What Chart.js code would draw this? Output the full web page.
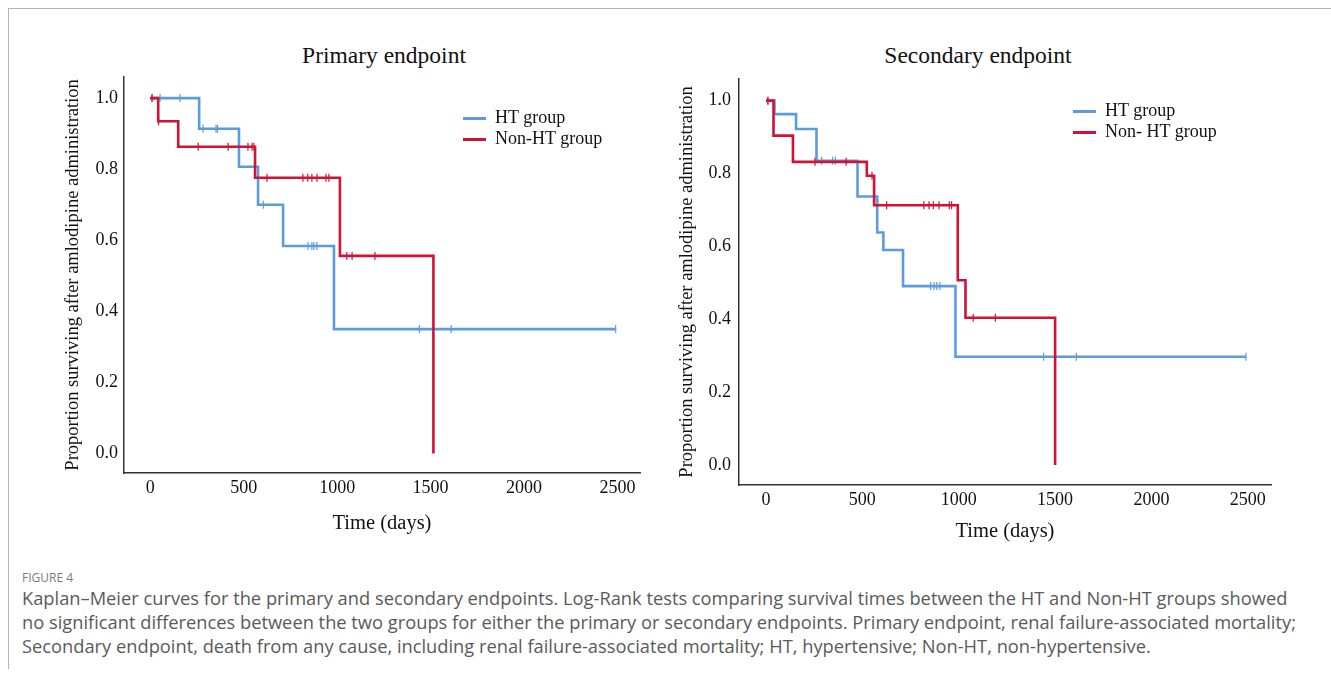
<!DOCTYPE html>
<html>
<head>
<meta charset="UTF-8">
<title>Figure 4 - Kaplan-Meier curves</title>
<script src="https://cdn.jsdelivr.net/npm/chart.js"></script>
<style>
  body {
    margin: 0;
    background: #fff;
    width: 1331px;
    height: 679px;
    position: relative;
    overflow: hidden;
    font-family: "Liberation Serif", "Times New Roman", serif;
  }
  .frame {
    position: absolute;
    left: 8px; top: 8px; right: 0; height: 660px;
    border-top: 1px solid #b4b4b4;
    border-left: 1px solid #b4b4b4;
  }
  canvas { position: absolute; }
  .title {
    position: absolute;
    top: 41px;
    font-size: 23.5px;
    line-height: 28px;
    color: #111;
    transform: translateX(-50%);
    white-space: nowrap;
  }
  .legend {
    position: absolute;
    font-size: 18px;
    line-height: 21px;
    color: #111;
    white-space: nowrap;
  }
  .legend .sw {
    display: inline-block;
    width: 23px; height: 3px;
    vertical-align: middle;
    margin-right: 9px;
  }
  .figlabel {
    position: absolute;
    left: 22px; top: 569px;
    font-family: "Open Sans", sans-serif;
    font-size: 12px;
    color: #7a7a7a;
  }
  .caption {
    position: absolute;
    left: 22px; top: 586px;
    font-family: "Open Sans", sans-serif;
    font-size: 18.3px;
    line-height: 24px;
    color: #5a5a5a;
    white-space: nowrap;
  }
</style>
</head>
<body>
<div class="frame"></div>

<div class="title" style="left:384px">Primary endpoint</div>
<div class="title" style="left:978px">Secondary endpoint</div>

<canvas id="primaryChart" width="610" height="490" style="left:40px;top:60px"></canvas>
<canvas id="secondaryChart" width="625" height="500" style="left:660px;top:60px"></canvas>

<div class="legend" style="left:463px;top:107px">
  <div><span class="sw" style="background:#5b9be0"></span>HT group</div>
  <div><span class="sw" style="background:#cf1236"></span>Non-HT group</div>
</div>
<div class="legend" style="left:1073px;top:100px">
  <div><span class="sw" style="background:#5b9be0"></span>HT group</div>
  <div><span class="sw" style="background:#cf1236"></span>Non- HT group</div>
</div>

<div class="figlabel">FIGURE 4</div>
<div class="caption">
  Kaplan–Meier curves for the primary and secondary endpoints. Log-Rank tests comparing survival times between the HT and Non-HT groups showed<br>
  no significant differences between the two groups for either the primary or secondary endpoints. Primary endpoint, renal failure-associated mortality;<br>
  Secondary endpoint, death from any cause, including renal failure-associated mortality; HT, hypertensive; Non-HT, non-hypertensive.
</div>

<script>
  // axis ticks
  const xTicks = [0, 500, 1000, 1500, 2000, 2500];
  const yTicks = [0, 0.2, 0.4, 0.6, 0.8, 1.0];

  // primary endpoint - event times (days) and survival after each event
  const htEventsP = [262, 475, 577, 711, 983];
  const htSurvP = [0.914, 0.807, 0.700, 0.584, 0.350];
  const htCensoredP = [10, 53, 160, 283, 352, 360, 605, 844, 865, 876, 892, 1440, 1610, 2490];

  const nonEventsP = [43, 150, 561, 1015, 1515];
  const nonSurvP = [0.935, 0.863, 0.776, 0.556, 0.0];
  const nonCensoredP = [10, 45, 257, 417, 523, 545, 555, 625, 817, 843, 865, 892, 940, 956, 1052, 1080, 1202];

  // secondary endpoint
  const htEventsS = [44, 156, 262, 475, 577, 609, 711, 983];
  const htSurvS = [0.963, 0.922, 0.835, 0.737, 0.638, 0.590, 0.491, 0.297];
  const htCensoredS = [10, 289, 346, 360, 854, 872, 886, 902, 1440, 1610, 2490];

  const nonEventsS = [39, 140, 523, 561, 995, 1035, 1500];
  const nonSurvS = [0.904, 0.832, 0.794, 0.713, 0.507, 0.404, 0.0];
  const nonCensoredS = [10, 254, 416, 550, 626, 819, 846, 868, 898, 951, 963, 1075, 1190];

  const BLUE = '#5b9be0';
  const RED = '#cf1236';
  const FONT = '"Liberation Serif", "Times New Roman", serif';

  function survAt(events, surv, t) {
    let s = 1;
    events.forEach((e, i) => { if (e <= t) s = surv[i]; });
    return s;
  }

  function curve(events, surv, censored) {
    const pts = [{x: 0, y: 1}];
    events.forEach((t, i) => pts.push({x: t, y: surv[i]}));
    const last = censored[censored.length - 1];
    if (last > events[events.length - 1]) pts.push({x: last, y: surv[surv.length - 1]});
    return pts;
  }

  function marks(events, surv, censored) {
    return censored.map(t => ({x: t, y: survAt(events, surv, t)}));
  }

  function lineSet(data, color) {
    return {
      type: 'line', data: data, borderColor: color, borderWidth: 2.6,
      stepped: true, pointRadius: 0, fill: false
    };
  }

  function markSet(data, color) {
    return {
      type: 'scatter', data: data, borderColor: color, backgroundColor: color,
      pointStyle: 'line', rotation: 90, pointRadius: 4, borderWidth: 1.2, showLine: false
    };
  }

  function makeChart(id, series, lay) {
    new Chart(document.getElementById(id), {
      type: 'scatter',
      data: {
        datasets: [
          markSet(marks(series.nonE, series.nonS, series.nonC), RED),
          lineSet(curve(series.nonE, series.nonS, series.nonC), RED),
          markSet(marks(series.htE, series.htS, series.htC), BLUE),
          lineSet(curve(series.htE, series.htS, series.htC), BLUE)
        ]
      },
      options: {
        responsive: false,
        animation: false,
        events: [],
        layout: { padding: lay.padding },
        plugins: { legend: { display: false }, tooltip: { enabled: false } },
        scales: {
          x: {
            type: 'linear', min: -140, max: 2620,
            grid: { display: false, drawTicks: false },
            border: { display: true, color: '#333', width: 1.5 },
            afterBuildTicks: s => { s.ticks = xTicks.map(v => ({value: v})); },
            ticks: {
              padding: 4, color: '#111', font: { family: FONT, size: 18 },
              callback: v => String(v)
            },
            title: {
              display: true, text: 'Time (days)', color: '#111',
              font: { family: FONT, size: 20.5, lineHeight: 1.2 }, padding: { top: 0, bottom: 4 }
            },
            afterFit: s => { s.height = lay.xHeight; }
          },
          y: {
            type: 'linear', min: -0.055, max: 1.06,
            grid: { display: false, drawTicks: false },
            border: { display: true, color: '#333', width: 1.5 },
            afterBuildTicks: s => { s.ticks = yTicks.map(v => ({value: v})); },
            ticks: {
              padding: lay.yPad, color: '#111', font: { family: FONT, size: 18 },
              callback: v => v.toFixed(1)
            },
            title: {
              display: true, text: 'Proportion surviving after amlodipine administration', color: '#111',
              font: { family: FONT, size: 18.5, lineHeight: 1.2 }, padding: { top: 4, bottom: 0 }
            },
            afterFit: s => { s.width = lay.yWidth; }
          }
        }
      }
    });
  }

  makeChart('primaryChart',
    { htE: htEventsP, htS: htSurvP, htC: htCensoredP, nonE: nonEventsP, nonS: nonSurvP, nonC: nonCensoredP },
    { padding: { left: 18, top: 16, right: 10, bottom: 9.7 }, xHeight: 67.3, yWidth: 66, yPad: 6 });

  makeChart('secondaryChart',
    { htE: htEventsS, htS: htSurvS, htC: htCensoredS, nonE: nonEventsS, nonS: nonSurvS, nonC: nonCensoredS },
    { padding: { left: 12, top: 17, right: 14, bottom: 11.7 }, xHeight: 63.3, yWidth: 67, yPad: 8 });
</script>
</body>
</html>
